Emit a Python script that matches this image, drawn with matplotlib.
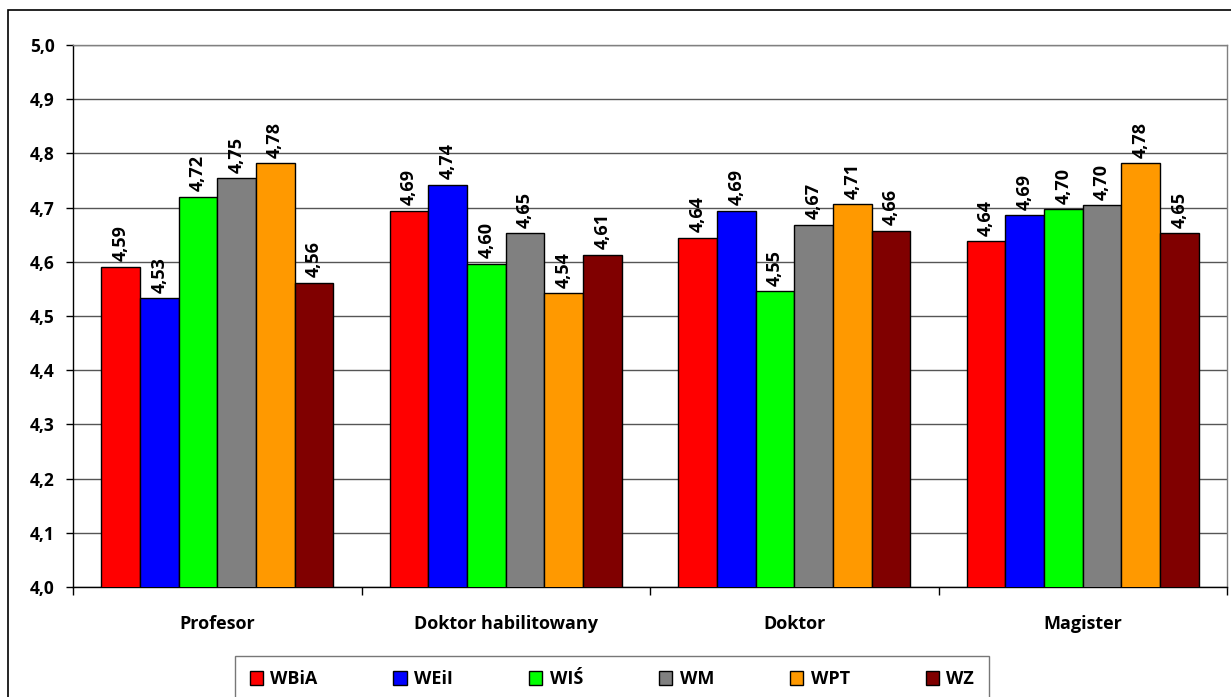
import numpy as np
import matplotlib
matplotlib.use("Agg")
import matplotlib.pyplot as plt
from matplotlib.patches import Rectangle

plt.rcParams["font.family"] = ["Open Sans", "DejaVu Sans"]
plt.rcParams["font.weight"] = "bold"

categories = ["Profesor", "Doktor habilitowany", "Doktor", "Magister"]
series = ["WBiA", "WEiI", "WIŚ", "WM", "WPT", "WZ"]
colors = ["#FF0000", "#0000FF", "#00FF00", "#808080", "#FF9900", "#800000"]

wbia = [4.591, 4.694, 4.644, 4.638]
weii = [4.533, 4.742, 4.694, 4.686]
wis = [4.720, 4.596, 4.546, 4.697]
wm = [4.754, 4.653, 4.668, 4.704]
wpt = [4.782, 4.542, 4.706, 4.782]
wz = [4.561, 4.613, 4.657, 4.653]
values = [wbia, weii, wis, wm, wpt, wz]

yticks = np.round(np.arange(4.0, 5.01, 0.1), 1)

fig = plt.figure(figsize=(12.31, 6.97), dpi=100)
ax = fig.add_axes([0.0593, 0.1578, 0.9375, 0.7776])

# outer frame of the chart (cut at right/bottom edges)
fig.patches.append(Rectangle((8 / 1231, -0.1), 1.2, 1 - 10 / 697 + 0.1,
                             transform=fig.transFigure, fill=False,
                             edgecolor="black", linewidth=1.2, zorder=0))

x = np.arange(len(categories))
w = 0.134
n = len(series)
for i, (name, vals, c) in enumerate(zip(series, values, colors)):
    pos = x + (i - (n - 1) / 2) * w
    bars = ax.bar(pos, vals, width=w, bottom=0, color=c, edgecolor="black",
                  linewidth=1, label=name, zorder=3)
    for b, v in zip(bars, vals):
        ax.annotate(f"{v:.2f}".replace(".", ","),
                    (b.get_x() + b.get_width() / 2, v),
                    xytext=(0, 4), textcoords="offset points",
                    rotation=90, ha="center", va="bottom",
                    fontsize=13, fontweight="bold", zorder=4)

ax.set_ylim(4.0, 5.0)
ax.set_xlim(-0.5, len(categories) - 0.5)
ax.set_yticks(yticks)
ax.set_yticklabels([f"{t:.1f}".replace(".", ",") for t in yticks],
                   fontsize=12.5, fontweight="bold")
ax.yaxis.grid(True, color="#555555", linewidth=1, zorder=0)
ax.tick_params(axis="y", length=5, width=1, pad=8)

ax.set_xticks(np.arange(len(categories) + 1) - 0.5)
ax.set_xticklabels([])
ax.set_xticks(x, minor=True)
ax.set_xticklabels(categories, minor=True, fontsize=13, fontweight="bold")
ax.tick_params(axis="x", which="major", length=6, width=1)
ax.tick_params(axis="x", which="minor", length=0, pad=20)

for s in ["left", "bottom"]:
    ax.spines[s].set_color("black")
    ax.spines[s].set_linewidth(1)
for s in ["top", "right"]:
    ax.spines[s].set_color("#808080")
    ax.spines[s].set_linewidth(1)

leg = fig.legend(loc="upper center", bbox_to_anchor=(0.497, 0.059), ncol=6,
                 frameon=True, fancybox=False, edgecolor="#555555",
                 handlelength=0.75, handleheight=0.75, borderaxespad=0,
                 handletextpad=0.4, columnspacing=4.2, borderpad=0.8,
                 prop={"weight": "bold", "size": 13})
leg.get_frame().set_linewidth(1)

fig.savefig("out.png", dpi=100)
